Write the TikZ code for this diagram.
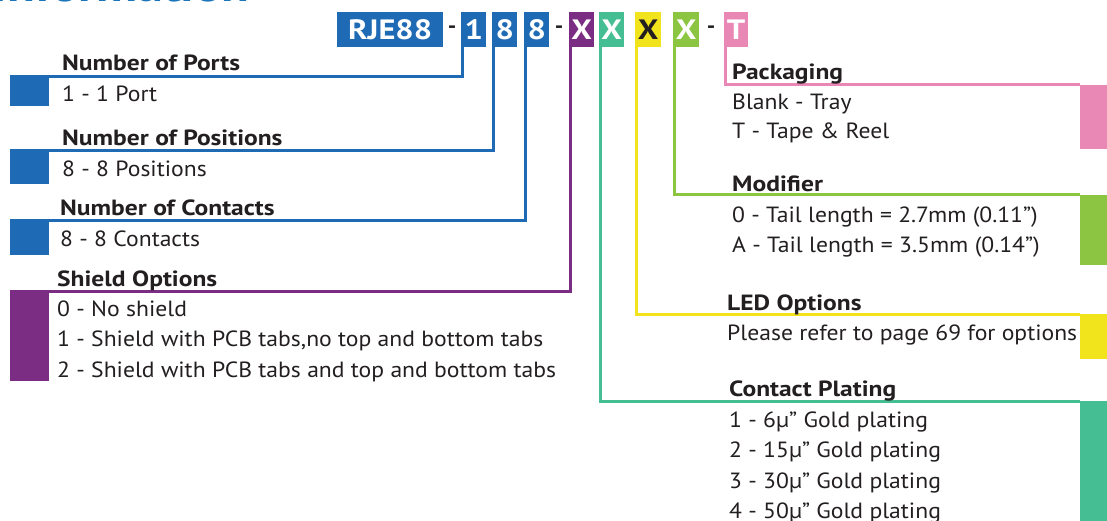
\documentclass[tikz,border=0pt]{standalone}
\usepackage{fontspec}
\setmainfont{PT Sans}[FakeStretch=1.075]
\newfontfamily\hfont{PT Sans}[FakeStretch=1.16]
\definecolor{cblue}{HTML}{1F6AB4}
\definecolor{cpurple}{HTML}{7B2D84}
\definecolor{cteal}{HTML}{45BE93}
\definecolor{cyellow}{HTML}{F2E41C}
\definecolor{cgreen}{HTML}{8BC541}
\definecolor{cpink}{HTML}{E987B5}
\definecolor{ctext}{HTML}{231F20}
\definecolor{ctitle}{HTML}{1B75BB}
\tikzset{
  codebox/.style={anchor=north west, inner sep=0pt, minimum height=35pt, text=white,
    font=\hfont\fontsize{28}{30}\selectfont\bfseries},
  dashtxt/.style={text=ctext, font=\fontsize{22}{24}\selectfont\bfseries, inner sep=0pt},
  blk/.style={anchor=north west, inner sep=0pt, draw=none},
  head/.style={anchor=base west, inner sep=0pt, text=ctext, font=\hfont\fontsize{22}{26}\selectfont\bfseries},
  body/.style={anchor=base west, inner sep=0pt, text=ctext, font=\fontsize{22}{26}\selectfont},
  conn/.style={line width=3pt},
}
\begin{document}
\begin{tikzpicture}[x=1pt,y=-1pt]
\useasboundingbox (0,0) rectangle (1107,521);
\clip (0,0) rectangle (1107,521);
\node[anchor=base east, inner sep=0pt, text=ctitle, font=\hfont\fontsize{44}{48}\selectfont\bfseries] (title) at (250,1.5) {Information};
% code boxes
\node[codebox, fill=cblue, minimum width=106pt] (rje) at (337,12) {RJE88};
\node[dashtxt] (d1) at (452,30) {-};
\node[codebox, fill=cblue, minimum width=25pt] (c1) at (461,12) {1};
\node[codebox, fill=cblue, minimum width=25pt] (c2) at (492,12) {8};
\node[codebox, fill=cblue, minimum width=25pt] (c3) at (524,12) {8};
\node[dashtxt] (d2) at (559,30) {-};
\node[codebox, fill=cpurple, minimum width=25pt] (c4) at (569,12) {X};
\node[codebox, fill=cteal, minimum width=25pt] (c5) at (599,12) {X};
\node[codebox, fill=cyellow, minimum width=26pt, text=ctext] (c6) at (635,12) {X};
\node[codebox, fill=cgreen, minimum width=26pt] (c7) at (673,12) {X};
\node[dashtxt] (d3) at (711,30) {-};
\node[codebox, fill=cpink, minimum width=24pt] (c8) at (724,12) {T};
% colour blocks
\node[blk, fill=cblue, minimum width=39pt, minimum height=29pt] (bports) at (10,77) {};
\node[blk, fill=cblue, minimum width=39pt, minimum height=33pt] (bpos) at (10,151) {};
\node[blk, fill=cblue, minimum width=39pt, minimum height=34pt] (bcont) at (10,221) {};
\node[blk, fill=cpurple, minimum width=39pt, minimum height=90pt] (bshield) at (10,291) {};
\node[blk, fill=cpink, minimum width=27pt, minimum height=64pt] (bpack) at (1080,85) {};
\node[blk, fill=cgreen, minimum width=27pt, minimum height=70pt] (bmod) at (1080,195) {};
\node[blk, fill=cyellow, minimum width=27pt, minimum height=45pt] (bled) at (1080,314) {};
\node[blk, fill=cteal, minimum width=27pt, minimum height=120pt] (bplat) at (1080,401) {};
% connectors
\draw[conn, cblue] ([xshift=1.5pt]c1.south west) |- (bports.north west);
\draw[conn, cblue] ([xshift=1.5pt]c2.south west) |- (bpos.north west);
\draw[conn, cblue] ([xshift=1.5pt]c3.south west) |- (bcont.north west);
\draw[conn, cpurple] ([xshift=1.5pt]c4.south west) |- (bshield.north west);
\draw[conn, cteal] ([xshift=1.5pt]c5.south west) |- (bplat.north west);
\draw[conn, cyellow] ([xshift=1.5pt]c6.south west) |- (bled.north west);
\draw[conn, cgreen] ([xshift=1.5pt]c7.south west) |- (bmod.north west);
\draw[conn, cpink] ([xshift=1.5pt]c8.south west) |- (bpack.north west);
% left texts
\node[head] (hports) at (62,71) {Number of Ports};
\node[body] (tports) at (62,102) {1 - 1 Port};
\node[head] (hpos) at (62,146) {Number of Positions};
\node[body] (tpos) at (62,177) {8 - 8 Positions};
\node[head] (hcont) at (60,216) {Number of Contacts};
\node[body] (tcont) at (60,247) {8 - 8 Contacts};
\node[head] (hshield) at (57,286) {Shield Options};
\node[body] (ts0) at (57,316) {0 - No shield};
\node[body] (ts1) at (57,346) {1 - Shield with PCB tabs,no top and bottom tabs};
\node[body] (ts2) at (57,377) {2 - Shield with PCB tabs and top and bottom tabs};
% right texts
\node[head] (hpack) at (732,80) {Packaging};
\node[body] (tp1) at (732,110) {Blank - Tray};
\node[body] (tp2) at (732,139) {T - Tape \& Reel};
\node[head] (hmod) at (732,192) {Modifier};
\node[body] (tm1) at (732,223) {0 - Tail length = 2.7mm (0.11”)};
\node[body] (tm2) at (732,252) {A - Tail length = 3.5mm (0.14”)};
\node[head] (hled) at (727,310) {LED Options};
\node[body] (tl1) at (727,340) {Please refer to page 69 for options};
\node[head] (hplat) at (729,396) {Contact Plating};
\node[body] (tc1) at (729,427) {1 - 6µ” Gold plating};
\node[body] (tc2) at (729,457) {2 - 15µ” Gold plating};
\node[body] (tc3) at (729,488) {3 - 30µ” Gold plating};
\node[body] (tc4) at (729,518) {4 - 50µ” Gold plating};
\end{tikzpicture}
\end{document}
